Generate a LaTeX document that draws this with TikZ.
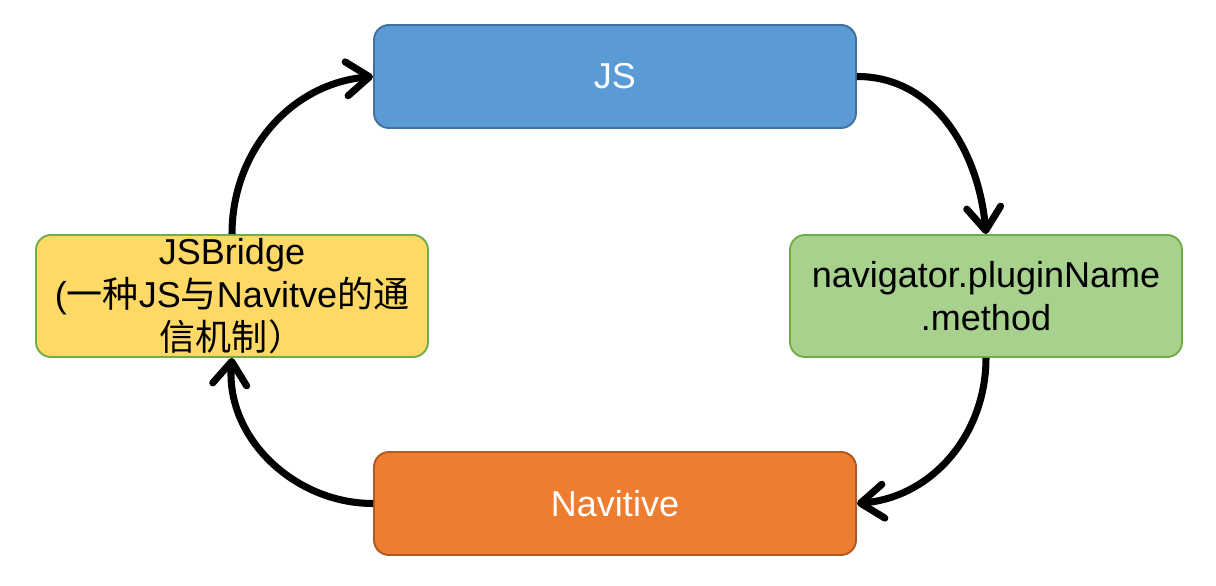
\documentclass[tikz,border=0pt]{standalone}
\usepackage{fontspec}
\setmainfont{Liberation Sans}
\newfontfamily\cjk{Noto Sans CJK SC}
\usetikzlibrary{arrows.meta}

\definecolor{jsblue}{HTML}{5B9BD5}
\definecolor{jsblueline}{HTML}{41719C}
\definecolor{navgreen}{HTML}{A9D18E}
\definecolor{navgreenline}{HTML}{70AD47}
\definecolor{natorange}{HTML}{ED7D31}
\definecolor{natorangeline}{HTML}{AE5A21}
\definecolor{bridgeyellow}{HTML}{FFD966}

\begin{document}
\begin{tikzpicture}[
    box/.style={rounded corners=0.3cm, line width=1.1pt, align=center,
      font=\fontsize{20.5}{24.5}\selectfont, inner sep=0pt},
    flow/.style={line width=4pt,
      -{Straight Barb[length=4.6mm,width=6.8mm,line cap=round,line join=round]}}]
   \useasboundingbox (0,0) rectangle (24.32,11.72);
   % the four steps
   \node[box, fill=jsblue, draw=jsblueline, text=white,
     minimum width=9.64cm, minimum height=2.06cm] (js) at (12.3,10.19) {JS};
   \node[box, fill=navgreen, draw=navgreenline,
     minimum width=7.84cm, minimum height=2.44cm] (plugin) at (19.72,5.8)
     {navigator.pluginName\\.method};
   \node[box, fill=natorange, draw=natorangeline, text=white,
     minimum width=9.64cm, minimum height=2.06cm] (native) at (12.3,1.65) {Navitive};
   \node[box, fill=bridgeyellow, draw=navgreenline,
     minimum width=7.84cm, minimum height=2.44cm] (bridge) at (4.64,5.8)
     {JSBridge\\({\cjk 一种}JS{\cjk 与}Navitve{\cjk 的通}\\{\cjk 信机制）}};
   % the loop
   \draw[flow] (js.east) to[out=0, in=95] (plugin.north);
   \draw[flow] (plugin.south) to[out=-90, in=5] (native.east);
   \draw[flow] (native.west) to[out=180, in=-95] (bridge.south);
   \draw[flow] (bridge.north) to[out=90, in=185] (js.west);
\end{tikzpicture}
\end{document}
